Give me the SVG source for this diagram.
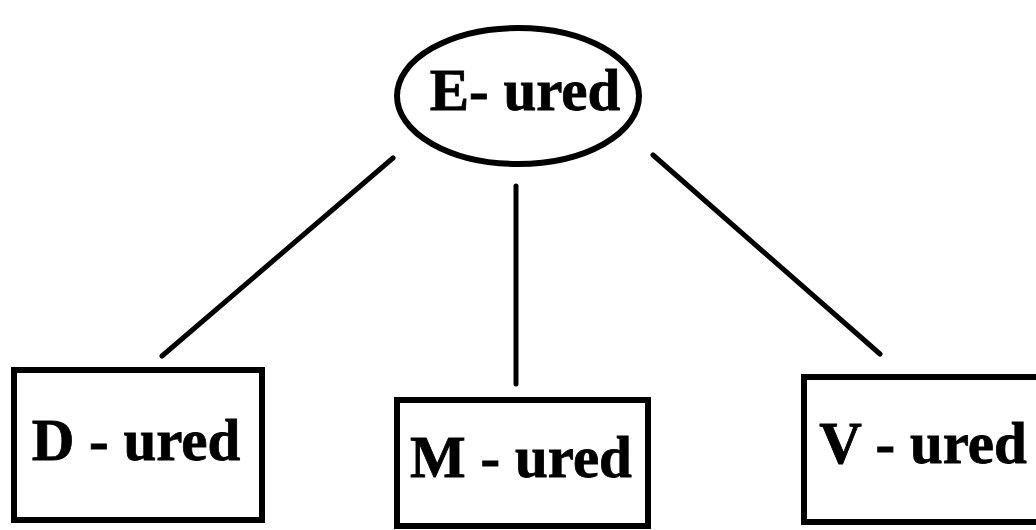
<svg xmlns="http://www.w3.org/2000/svg" width="1036" height="530" viewBox="0 0 1036 530">
<style>
.n{fill:#fff;stroke:#000;stroke-width:6}
.t{font-family:"Liberation Serif",serif;font-weight:bold;font-size:59px;fill:#000;stroke:#000;stroke-width:0.8}
.c line{stroke:#000;stroke-width:5;stroke-linecap:round}
</style>
<rect width="1036" height="530" fill="#fff"/>
<g class="c" id="connectors">
<line x1="393" y1="158" x2="162" y2="356"/>
<line x1="516" y1="186" x2="516" y2="384"/>
<line x1="653" y1="155" x2="880" y2="354"/>
</g>
<g id="e">
<ellipse class="n" cx="518" cy="96" rx="121" ry="68" stroke-width="5"/>
<text class="t" x="525" y="110" text-anchor="middle">E- ured</text>
</g>
<g id="d">
<rect class="n" x="14" y="370" width="248" height="150"/>
<text class="t" x="136" y="460" text-anchor="middle">D - ured</text>
</g>
<g id="m">
<rect class="n" x="397" y="400" width="251" height="126"/>
<text class="t" x="521" y="477" text-anchor="middle">M - ured</text>
</g>
<g id="v">
<rect class="n" x="804" y="377" width="240" height="145"/>
<text class="t" x="923" y="463" text-anchor="middle">V - ured</text>
</g>
</svg>
